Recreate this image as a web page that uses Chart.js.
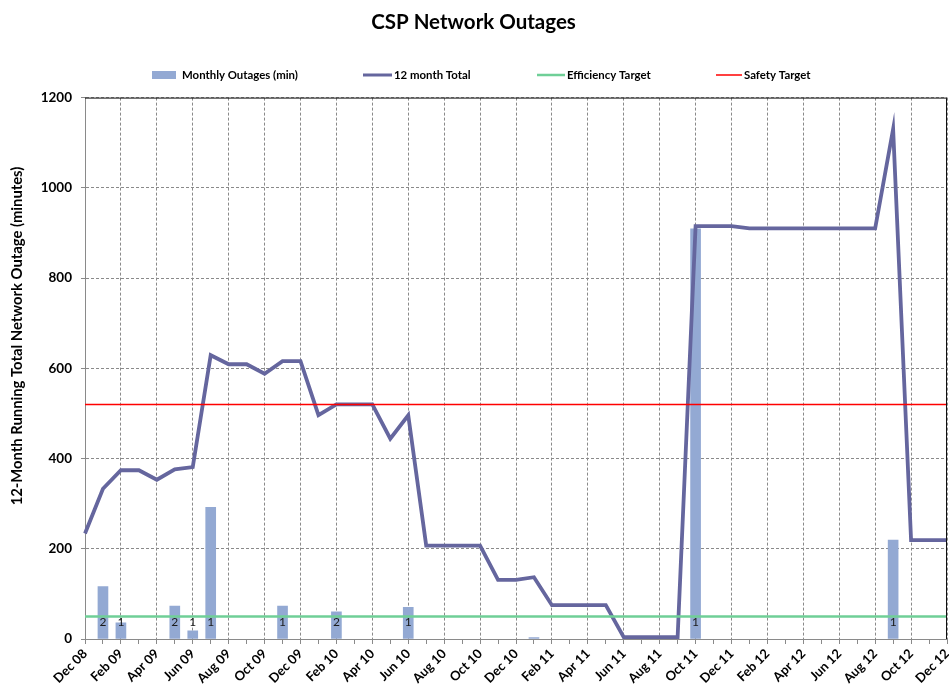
<!DOCTYPE html>
<html><head><meta charset="utf-8">
<script src="https://cdn.jsdelivr.net/npm/chart.js@4"></script>
<style>html,body{margin:0;padding:0;background:#fff}#wrap{width:949px;height:688px;position:relative}</style>
</head><body><div id="wrap"><canvas id="c"></canvas></div>
<script>
const months = ['Dec 08','Jan 09','Feb 09','Mar 09','Apr 09','May 09','Jun 09','Jul 09','Aug 09','Sep 09','Oct 09','Nov 09',
  'Dec 09','Jan 10','Feb 10','Mar 10','Apr 10','May 10','Jun 10','Jul 10','Aug 10','Sep 10','Oct 10','Nov 10',
  'Dec 10','Jan 11','Feb 11','Mar 11','Apr 11','May 11','Jun 11','Jul 11','Aug 11','Sep 11','Oct 11','Nov 11',
  'Dec 11','Jan 12','Feb 12','Mar 12','Apr 12','May 12','Jun 12','Jul 12','Aug 12','Sep 12','Oct 12','Nov 12','Dec 12'];
const monthlyOutages = [null,116,36,null,null,73,18,292,null,null,null,73,
  null,null,60,null,null,null,70,null,null,null,null,null,
  null,3,null,null,null,null,null,null,null,null,909,null,
  null,null,null,null,null,null,null,null,null,219,null,null,null];
const outageCounts = [null,2,1,null,null,2,1,1,null,null,null,1,
  null,null,2,null,null,null,1,null,null,null,null,null,
  null,null,null,null,null,null,null,null,null,null,1,null,
  null,null,null,null,null,null,null,null,null,1,null,null,null];
const twelveMonthTotal = [234,333,374,374,353,376,381,629,609,609,588,616,
  616,496,520,520,520,444,496,207,207,207,207,131,
  131,137,75,75,75,75,4,4,4,4,915,915,
  915,910,910,910,910,910,910,910,910,1130,219,219,219];
const efficiencyTarget = 50;
const safetyTarget = 520;
const yTickStep = 200;
const yMax = 1200;
const yAxisTitle = '12-Month Running Total Network Outage (minutes)';

const FONT = 'Lato';

const countLabels = {
  id: 'countLabels',
  afterDatasetsDraw(chart) {
    const ctx = chart.ctx;
    const meta = chart.getDatasetMeta(0);
    const y0 = chart.scales.y.getPixelForValue(0);
    ctx.save();
    ctx.font = '12px ' + FONT;
    ctx.fillStyle = '#1a1a1a';
    ctx.textAlign = 'center';
    ctx.textBaseline = 'middle';
    outageCounts.forEach((c, i) => {
      if (c != null && meta.data[i]) ctx.fillText(String(c), meta.data[i].x, y0 - 17);
    });
    ctx.restore();
  }
};
const frame = {
  id: 'frame',
  afterDraw(chart) {
    const {ctx, chartArea: a} = chart;
    ctx.save();
    ctx.strokeStyle = '#111';
    ctx.lineWidth = 1;
    ctx.beginPath();
    ctx.moveTo(a.left, a.top + 0.5);
    ctx.lineTo(a.right - 0.5, a.top + 0.5);
    ctx.lineTo(a.right - 0.5, a.bottom);
    ctx.stroke();
    ctx.restore();
  }
};
// Legend drawn at the reference item positions (Excel spreads its items unevenly)
const legendSlots = [
  {sx: 152, sw: 24, tx: 182},
  {sx: 363, sw: 29, tx: 394},
  {sx: 537, sw: 28, tx: 567},
  {sx: 716, sw: 26, tx: 744}
];
const customLegend = {
  id: 'customLegend',
  afterDraw(chart) {
    const ctx = chart.ctx;
    const y = 75;
    ctx.save();
    ctx.font = 'bold 11.4px ' + FONT;
    ctx.textBaseline = 'middle';
    ctx.textAlign = 'left';
    chart.data.datasets.forEach((ds, i) => {
      const s = legendSlots[i];
      if (ds.type === 'bar') {
        ctx.fillStyle = ds.backgroundColor;
        ctx.fillRect(s.sx, y - 4, s.sw, 8);
      } else {
        ctx.strokeStyle = ds.borderColor;
        ctx.lineWidth = Math.min(ds.borderWidth, 3);
        ctx.beginPath();
        ctx.moveTo(s.sx, y);
        ctx.lineTo(s.sx + s.sw, y);
        ctx.stroke();
      }
      ctx.fillStyle = '#000';
      ctx.fillText(ds.label, s.tx, y + 0.5);
    });
    ctx.restore();
  }
};
const yTitle = {
  id: 'yTitle',
  afterDraw(chart) {
    const ctx = chart.ctx;
    ctx.save();
    ctx.translate(17, 336);
    ctx.rotate(-Math.PI / 2);
    ctx.font = 'bold 14.8px ' + FONT;
    ctx.fillStyle = '#000';
    ctx.textAlign = 'center';
    ctx.textBaseline = 'middle';
    ctx.fillText(yAxisTitle, 0, 0);
    ctx.restore();
  }
};

new Chart(document.getElementById('c'), {
  data: {
    labels: months,
    datasets: [
      { type: 'bar', label: 'Monthly Outages (min)', data: monthlyOutages,
        backgroundColor: '#93A9D3', borderWidth: 0, barThickness: 10, order: 3 },
      { type: 'line', label: '12 month Total', data: twelveMonthTotal,
        borderColor: '#65669E', backgroundColor: '#65669E', borderWidth: 3.8,
        pointRadius: 0, tension: 0, order: 2 },
      { type: 'line', label: 'Efficiency Target',
        data: [{x: months[0], y: efficiencyTarget}, {x: months[months.length - 1], y: efficiencyTarget}],
        borderColor: '#6FCF97', backgroundColor: '#6FCF97', borderWidth: 2.5, pointRadius: 0, order: 1 },
      { type: 'line', label: 'Safety Target',
        data: [{x: months[0], y: safetyTarget}, {x: months[months.length - 1], y: safetyTarget}],
        borderColor: '#FF0000', backgroundColor: '#FF0000', borderWidth: 1.5, pointRadius: 0, order: 0 }
    ]
  },
  options: {
    responsive: true,
    maintainAspectRatio: false,
    animation: false,
    layout: { padding: { left: 0, right: 2, top: 0, bottom: 0 } },
    plugins: {
      tooltip: { enabled: false },
      legend: { display: false },
      title: { display: true, text: 'CSP Network Outages', color: '#000',
        font: { family: FONT, size: 20.5, weight: 'bold' }, padding: { top: 10, bottom: 63 } }
    },
    scales: {
      x: {
        type: 'category', offset: false,
        grid: { offset: false, color: c => (c.index % 2 === 0 ? '#8a8a8a' : 'rgba(0,0,0,0)'),
          tickColor: '#8a8a8a', tickLength: 5, tickBorderDash: [], lineWidth: 1 },
        border: { display: true, color: '#8a8a8a', width: 1, dash: [3, 2] },
        ticks: { autoSkip: false, minRotation: 45, maxRotation: 45, padding: 2, color: '#000',
          font: { family: FONT, size: 13, weight: 'bold' },
          callback: (v, i) => (i % 2 === 0 ? months[i] : '') },
        afterFit: s => { s.height = 49; s.paddingRight = 0; }
      },
      y: {
        min: 0, max: yMax,
        ticks: { stepSize: yTickStep, color: '#000', padding: 9,
          font: { family: FONT, size: 13.5, weight: 'bold' }, callback: v => String(v) },
        grid: { color: '#8a8a8a', tickColor: '#8a8a8a', tickLength: 4, tickBorderDash: [] },
        border: { display: true, color: '#8a8a8a', width: 1, dash: [3, 2] },
        afterFit: s => { s.width = 85; }
      }
    }
  },
  plugins: [countLabels, frame, customLegend, yTitle]
});
</script>
</body></html>
